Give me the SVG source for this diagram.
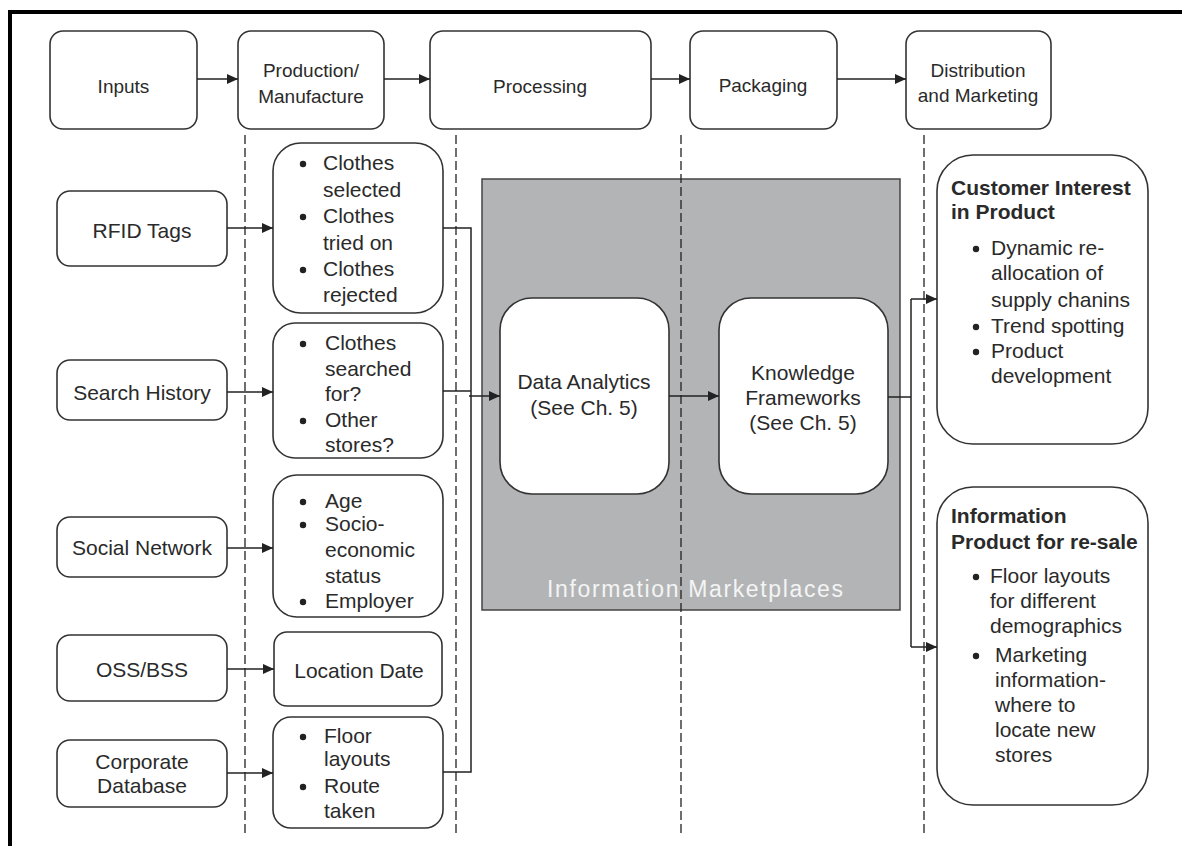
<svg xmlns="http://www.w3.org/2000/svg" width="1182" height="846" viewBox="0 0 1182 846">
<style>
.box{fill:#fff;stroke:#333;stroke-width:1.6}
.t{font-family:"Liberation Sans",Arial,sans-serif;fill:#2a2a2a}
.top{font-size:19px;text-anchor:middle}
.l{font-size:21px}
.c{text-anchor:middle}
.b{font-weight:bold}
.dash{stroke:#222;stroke-width:1.3;stroke-dasharray:9 4;fill:none}
.ln{stroke:#222;stroke-width:1.5;fill:none}
.dot{fill:#222}
</style>
<defs>
<marker id="ah" markerWidth="12" markerHeight="10" refX="11" refY="5" orient="auto" markerUnits="userSpaceOnUse">
<path d="M0,0 L11,5 L0,10 Z" fill="#222"/>
</marker>
</defs>
<rect width="1182" height="846" fill="#fff"/>
<path d="M10,846 V12 H1182" fill="none" stroke="#000" stroke-width="4"/>

<g id="lanes">
<line class="dash" x1="245" y1="135" x2="245" y2="835"/>
<line class="dash" x1="456" y1="135" x2="456" y2="835"/>
<line class="dash" x1="924" y1="135" x2="924" y2="835"/>
</g>

<g id="marketplaces">
<rect x="482" y="179" width="418" height="431" fill="#b3b4b6" stroke="#444" stroke-width="1.5"/>
<line class="dash" x1="681" y1="135" x2="681" y2="835"/>
<text class="t c" x="695" y="597" font-size="23" fill="#fff" style="fill:#f4f4f4" textLength="296">Information Marketplaces</text>
</g>

<g id="inputs"><rect class="box" x="50" y="31" width="147" height="98" rx="13"/><text class="t top" x="123.5" y="93">Inputs</text></g>
<g id="production"><rect class="box" x="238" y="31" width="146" height="98" rx="13"/><text class="t top" x="311" y="77">Production/</text><text class="t top" x="311" y="103">Manufacture</text></g>
<g id="processing"><rect class="box" x="430" y="31" width="221" height="98" rx="13"/><text class="t top" x="540" y="93">Processing</text></g>
<g id="packaging"><rect class="box" x="690" y="31" width="147" height="98" rx="13"/><text class="t top" x="763" y="92">Packaging</text></g>
<g id="distribution"><rect class="box" x="906" y="31" width="145" height="98" rx="13"/><text class="t top" x="978" y="77">Distribution</text><text class="t top" x="978" y="102">and Marketing</text></g>

<g id="rfid"><rect class="box" x="57" y="191" width="170" height="75" rx="13"/><text class="t l c" x="142" y="238">RFID Tags</text></g>
<g id="search"><rect class="box" x="57" y="360" width="170" height="60" rx="13"/><text class="t l c" x="142" y="400">Search History</text></g>
<g id="social"><rect class="box" x="57" y="517" width="170" height="60" rx="13"/><text class="t l c" x="142" y="555">Social Network</text></g>
<g id="oss"><rect class="box" x="57" y="635" width="170" height="66" rx="13"/><text class="t l c" x="142" y="677">OSS/BSS</text></g>
<g id="corporate"><rect class="box" x="57" y="740" width="170" height="67" rx="13"/><text class="t l c" x="142" y="769">Corporate</text><text class="t l c" x="142" y="793">Database</text></g>

<g id="clothes">
<rect class="box" x="273" y="143" width="170" height="170" rx="28"/>
<circle class="dot" cx="303" cy="164" r="3.2"/><circle class="dot" cx="303" cy="217" r="3.2"/><circle class="dot" cx="303" cy="270" r="3.2"/>
<text class="t l" x="323" y="170">Clothes</text><text class="t l" x="323" y="197">selected</text>
<text class="t l" x="323" y="223">Clothes</text><text class="t l" x="323" y="250">tried on</text>
<text class="t l" x="323" y="276">Clothes</text><text class="t l" x="323" y="302">rejected</text>
</g>
<g id="searched">
<rect class="box" x="273" y="323" width="170" height="135" rx="22"/>
<circle class="dot" cx="303" cy="344" r="3.2"/><circle class="dot" cx="303" cy="421" r="3.2"/>
<text class="t l" x="325" y="350">Clothes</text><text class="t l" x="325" y="376">searched</text><text class="t l" x="325" y="401">for?</text>
<text class="t l" x="325" y="427">Other</text><text class="t l" x="325" y="452">stores?</text>
</g>
<g id="demographic">
<rect class="box" x="273" y="475" width="170" height="142" rx="24"/>
<circle class="dot" cx="303" cy="502" r="3.2"/><circle class="dot" cx="303" cy="525" r="3.2"/><circle class="dot" cx="303" cy="602" r="3.2"/>
<text class="t l" x="325" y="508">Age</text><text class="t l" x="325" y="531">Socio-</text><text class="t l" x="325" y="557">economic</text><text class="t l" x="325" y="583">status</text><text class="t l" x="325" y="608">Employer</text>
</g>
<g id="location"><rect class="box" x="274" y="632" width="168" height="74" rx="13"/><text class="t l c" x="359" y="678">Location Date</text></g>
<g id="floor">
<rect class="box" x="273" y="717" width="170" height="111" rx="18"/>
<circle class="dot" cx="303" cy="737" r="3.2"/><circle class="dot" cx="303" cy="787" r="3.2"/>
<text class="t l" x="324" y="743">Floor</text><text class="t l" x="324" y="766">layouts</text><text class="t l" x="324" y="793">Route</text><text class="t l" x="324" y="818">taken</text>
</g>

<g id="analytics"><rect class="box" x="500" y="298" width="169" height="196" rx="32" stroke-width="1.4"/><text class="t l c" x="584" y="389">Data Analytics</text><text class="t l c" x="584" y="415">(See Ch. 5)</text></g>
<g id="knowledge"><rect class="box" x="719" y="298" width="169" height="196" rx="32" stroke-width="1.4"/><text class="t l c" x="803" y="380">Knowledge</text><text class="t l c" x="803" y="405">Frameworks</text><text class="t l c" x="803" y="430">(See Ch. 5)</text></g>

<g id="customer">
<rect class="box" x="937" y="155" width="211" height="289" rx="36"/>
<text class="t l b" x="951" y="195">Customer Interest</text><text class="t l b" x="951" y="219">in Product</text>
<circle class="dot" cx="976" cy="249" r="3.2"/><circle class="dot" cx="976" cy="327" r="3.2"/><circle class="dot" cx="976" cy="352" r="3.2"/>
<text class="t l" x="991" y="255">Dynamic re-</text><text class="t l" x="991" y="280">allocation of</text><text class="t l" x="991" y="307">supply chanins</text>
<text class="t l" x="991" y="333">Trend spotting</text><text class="t l" x="991" y="358">Product</text><text class="t l" x="991" y="383">development</text>
</g>
<g id="infoproduct">
<rect class="box" x="937" y="487" width="211" height="318" rx="36"/>
<text class="t l b" x="951" y="523">Information</text><text class="t l b" x="951" y="549">Product for re-sale</text>
<circle class="dot" cx="976" cy="577" r="3.2"/><circle class="dot" cx="976" cy="656" r="3.2"/>
<text class="t l" x="990" y="583">Floor layouts</text><text class="t l" x="990" y="608">for different</text><text class="t l" x="990" y="633">demographics</text>
<text class="t l" x="995" y="662">Marketing</text><text class="t l" x="995" y="687">information-</text><text class="t l" x="995" y="712">where to</text><text class="t l" x="995" y="737">locate new</text><text class="t l" x="995" y="762">stores</text>
</g>

<g id="connectors">
<line class="ln" x1="197" y1="79" x2="238" y2="79" marker-end="url(#ah)"/>
<line class="ln" x1="384" y1="79" x2="430" y2="79" marker-end="url(#ah)"/>
<line class="ln" x1="651" y1="79" x2="690" y2="79" marker-end="url(#ah)"/>
<line class="ln" x1="837" y1="79" x2="906" y2="79" marker-end="url(#ah)"/>
<line class="ln" x1="227" y1="228" x2="273" y2="228" marker-end="url(#ah)"/>
<line class="ln" x1="227" y1="392" x2="273" y2="392" marker-end="url(#ah)"/>
<line class="ln" x1="227" y1="548" x2="273" y2="548" marker-end="url(#ah)"/>
<line class="ln" x1="227" y1="669" x2="274" y2="669" marker-end="url(#ah)"/>
<line class="ln" x1="227" y1="773" x2="273" y2="773" marker-end="url(#ah)"/>
<path class="ln" d="M443,228 H471 V772 H443"/>
<line class="ln" x1="443" y1="391" x2="471" y2="391"/>
<line class="ln" x1="469" y1="396" x2="500" y2="396" marker-end="url(#ah)"/>
<line class="ln" x1="669" y1="396" x2="719" y2="396" marker-end="url(#ah)"/>
<path class="ln" d="M888,397 H911"/>
<path class="ln" d="M911,299 V647"/>
<line class="ln" x1="911" y1="299" x2="937" y2="299" marker-end="url(#ah)"/>
<line class="ln" x1="911" y1="647" x2="937" y2="647" marker-end="url(#ah)"/>
</g>
</svg>
